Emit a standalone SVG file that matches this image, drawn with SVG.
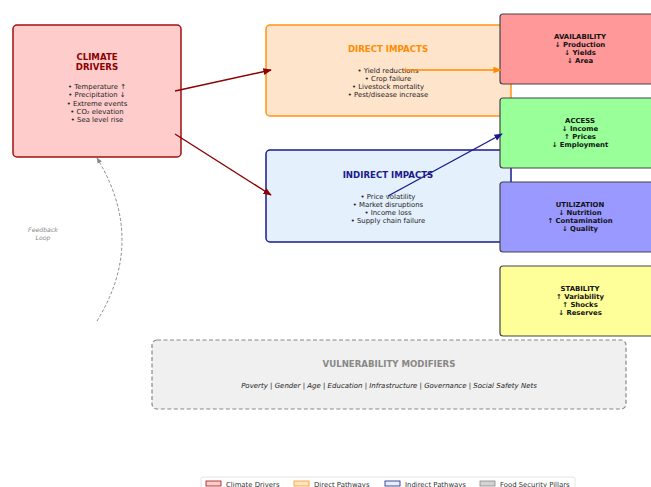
<svg xmlns="http://www.w3.org/2000/svg" width="651" height="487" viewBox="0 0 651 487">
<style>
text{font-family:"DejaVu Sans","Liberation Sans",sans-serif;text-anchor:middle}
.t{font-size:8.6px;font-weight:bold}
.b{font-size:6.9px;fill:#222}
.p{font-size:6.9px;font-weight:bold;fill:#111}
.pil{stroke:#444;stroke-width:1.2}
.lg{font-size:6.9px;fill:#333;text-anchor:start}
</style>
<defs>
<marker id="ar" viewBox="0 0 10 10" refX="9" refY="5" markerWidth="6" markerHeight="6" orient="auto"><path d="M0,1L10,5L0,9z" fill="#8b0000"/></marker>
<marker id="ao" viewBox="0 0 10 10" refX="9" refY="5" markerWidth="6" markerHeight="6" orient="auto"><path d="M0,1L10,5L0,9z" fill="#ff8c00"/></marker>
<marker id="an" viewBox="0 0 10 10" refX="9" refY="5" markerWidth="6" markerHeight="6" orient="auto"><path d="M0,1L10,5L0,9z" fill="#1a1a8c"/></marker>
<marker id="ag" viewBox="0 0 10 10" refX="9" refY="5" markerWidth="6" markerHeight="6" orient="auto"><path d="M0,1L10,5L0,9z" fill="#888"/></marker>
</defs>
<rect width="651" height="487" fill="#fff"/>
<g id="climate">
<rect x="13" y="25" width="168" height="132" rx="4" fill="#ffcccc" stroke="#a01010" stroke-width="1.5"/>
<text class="t" x="97" y="60" fill="#8b0000">CLIMATE</text>
<text class="t" x="97" y="69.5" fill="#8b0000">DRIVERS</text>
<text class="b" x="97" y="89">• Temperature ↑</text>
<text class="b" x="97" y="97.3">• Precipitation ↓</text>
<text class="b" x="97" y="105.6">• Extreme events</text>
<text class="b" x="97" y="113.9">• CO₂ elevation</text>
<text class="b" x="97" y="122.2">• Sea level rise</text>
</g>
<g id="direct">
<rect x="266" y="25" width="245" height="91" rx="4" fill="#ffe4cc" stroke="#ff9410" stroke-width="1.5"/>
<text class="t" x="388" y="52" fill="#ff8c00">DIRECT IMPACTS</text>
<text class="b" x="388" y="72.5">• Yield reductions</text>
<text class="b" x="388" y="80.8">• Crop failure</text>
<text class="b" x="388" y="89.1">• Livestock mortality</text>
<text class="b" x="388" y="97.4">• Pest/disease increase</text>
</g>
<g id="indirect">
<rect x="266" y="150" width="245" height="92" rx="4" fill="#e4f0fc" stroke="#1a1a8c" stroke-width="1.5"/>
<text class="t" x="388" y="178" fill="#1a1a8c">INDIRECT IMPACTS</text>
<text class="b" x="388" y="198.5">• Price volatility</text>
<text class="b" x="388" y="206.8">• Market disruptions</text>
<text class="b" x="388" y="215.1">• Income loss</text>
<text class="b" x="388" y="223.4">• Supply chain failure</text>
</g>
<g id="availability">
<rect class="pil" x="500" y="14" width="165" height="70" rx="3" fill="#ff9999"/>
<text class="p" x="580" y="38.5">AVAILABILITY</text>
<text class="p" x="580" y="46.8">↓ Production</text>
<text class="p" x="580" y="55.1">↓ Yields</text>
<text class="p" x="580" y="63.4">↓ Area</text>
</g>
<g id="access">
<rect class="pil" x="500" y="98" width="165" height="70" rx="3" fill="#99ff99"/>
<text class="p" x="580" y="122.5">ACCESS</text>
<text class="p" x="580" y="130.8">↓ Income</text>
<text class="p" x="580" y="139.1">↑ Prices</text>
<text class="p" x="580" y="147.4">↓ Employment</text>
</g>
<g id="utilization">
<rect class="pil" x="500" y="182" width="165" height="70" rx="3" fill="#9999ff"/>
<text class="p" x="580" y="206.5">UTILIZATION</text>
<text class="p" x="580" y="214.8">↓ Nutrition</text>
<text class="p" x="580" y="223.1">↑ Contamination</text>
<text class="p" x="580" y="231.4">↓ Quality</text>
</g>
<g id="stability">
<rect class="pil" x="500" y="266" width="165" height="70" rx="3" fill="#ffff99"/>
<text class="p" x="580" y="290.5">STABILITY</text>
<text class="p" x="580" y="298.8">↑ Variability</text>
<text class="p" x="580" y="307.1">↑ Shocks</text>
<text class="p" x="580" y="315.4">↓ Reserves</text>
</g>
<g id="vulnerability">
<rect x="152" y="340" width="474" height="69" rx="5" fill="#f0f0f0" stroke="#888" stroke-width="1.2" stroke-dasharray="4,2.5"/>
<text class="t" x="389" y="367" fill="#888">VULNERABILITY MODIFIERS</text>
<text x="389" y="387.5" style="font-size:7px;font-style:italic;fill:#222">Poverty | Gender | Age | Education | Infrastructure | Governance | Social Safety Nets</text>
</g>
<g id="connectors" fill="none">
<line x1="175" y1="91" x2="271" y2="70" stroke="#8b0000" stroke-width="1.4" marker-end="url(#ar)"/>
<line x1="175" y1="134" x2="271" y2="195" stroke="#8b0000" stroke-width="1.4" marker-end="url(#ar)"/>
<line x1="403" y1="70" x2="501" y2="70" stroke="#ff8c00" stroke-width="1.4" marker-end="url(#ao)"/>
<line x1="388" y1="196" x2="502" y2="134" stroke="#1a1a8c" stroke-width="1.4" marker-end="url(#an)"/>
<path d="M97,321 Q147,240 97,158" stroke="#888" stroke-width="1" stroke-dasharray="3,2" marker-end="url(#ag)"/>
</g>
<g id="feedback-label">
<text x="43" y="232" style="font-size:6.2px;font-style:italic;fill:#888">Feedback</text>
<text x="43" y="239.5" style="font-size:6.2px;font-style:italic;fill:#888">Loop</text>
</g>
<g id="legend">
<rect x="201" y="477" width="374" height="16" rx="2" fill="#fff" stroke="#ddd" stroke-width="0.8"/>
<rect x="206" y="481" width="15" height="5" fill="#ffcccc" stroke="#a01010" stroke-width="0.8"/>
<text class="lg" x="226" y="486.5">Climate Drivers</text>
<rect x="294" y="481" width="15" height="5" fill="#ffe4cc" stroke="#ff9410" stroke-width="0.8"/>
<text class="lg" x="314" y="486.5">Direct Pathways</text>
<rect x="385" y="481" width="15" height="5" fill="#e4f0fc" stroke="#1a1a8c" stroke-width="0.8"/>
<text class="lg" x="405" y="486.5">Indirect Pathways</text>
<rect x="480" y="481" width="15" height="5" fill="#d3d3d3" stroke="#888" stroke-width="0.8"/>
<text class="lg" x="500" y="486.5">Food Security Pillars</text>
</g>
</svg>
